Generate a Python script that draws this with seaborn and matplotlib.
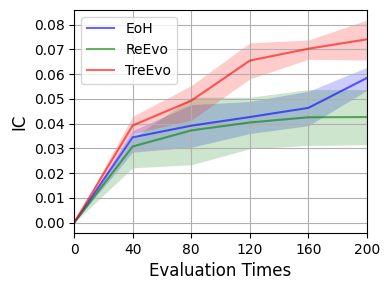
import numpy as np
import pandas as pd
import seaborn as sns
import matplotlib
matplotlib.use("Agg")
import matplotlib.pyplot as plt
from matplotlib.ticker import MultipleLocator, FormatStrFormatter

# evaluation times
steps = [0, 40, 80, 120, 160, 200]

# mean IC per method
eoh_mean = [0.0, 0.0345, 0.0392, 0.0427, 0.0464, 0.0585]
reevo_mean = [0.0, 0.0308, 0.0373, 0.0405, 0.0426, 0.0427]
treevo_mean = [0.0, 0.0393, 0.0493, 0.0655, 0.0703, 0.0741]

# band limits (lower / upper)
eoh_low = [0.0, 0.0285, 0.0305, 0.0360, 0.0392, 0.0535]
eoh_high = [0.0, 0.0372, 0.0477, 0.0490, 0.0531, 0.0628]
reevo_low = [0.0, 0.0222, 0.0234, 0.0299, 0.0312, 0.0315]
reevo_high = [0.0, 0.0340, 0.0507, 0.0507, 0.0538, 0.0538]
treevo_low = [0.0, 0.0360, 0.0414, 0.0581, 0.0660, 0.0657]
treevo_high = [0.0, 0.0430, 0.0554, 0.0727, 0.0738, 0.0819]

methods = ["EoH", "ReEvo", "TreEvo"]
colors = ["blue", "green", "red"]

df = pd.DataFrame({
    "step": steps * 3,
    "IC": eoh_mean + reevo_mean + treevo_mean,
    "method": [m for m in methods for _ in steps],
})
bands = {"EoH": (eoh_low, eoh_high),
         "ReEvo": (reevo_low, reevo_high),
         "TreEvo": (treevo_low, treevo_high)}

fig, ax = plt.subplots(figsize=(3.9, 2.9), dpi=100)
sns.lineplot(data=df, x="step", y="IC", hue="method", palette=colors,
             alpha=0.6, linewidth=1.5, ax=ax)
for m, c in zip(methods, colors):
    lo, hi = bands[m]
    ax.fill_between(steps, lo, hi, color=c, alpha=0.2, linewidth=0)

ax.set_xlim(0, 200)
ax.set_xticks(steps)
ax.yaxis.set_major_locator(MultipleLocator(0.01))
ax.yaxis.set_major_formatter(FormatStrFormatter("%.2f"))
ax.set_xlabel("Evaluation Times", fontsize=12)
ax.set_ylabel("IC", fontsize=12)
ax.grid(True)
ax.legend(loc="upper left", fontsize=10)

plt.subplots_adjust(left=0.19, right=0.941, top=0.966, bottom=0.197)
plt.savefig("out.png", dpi=100)
